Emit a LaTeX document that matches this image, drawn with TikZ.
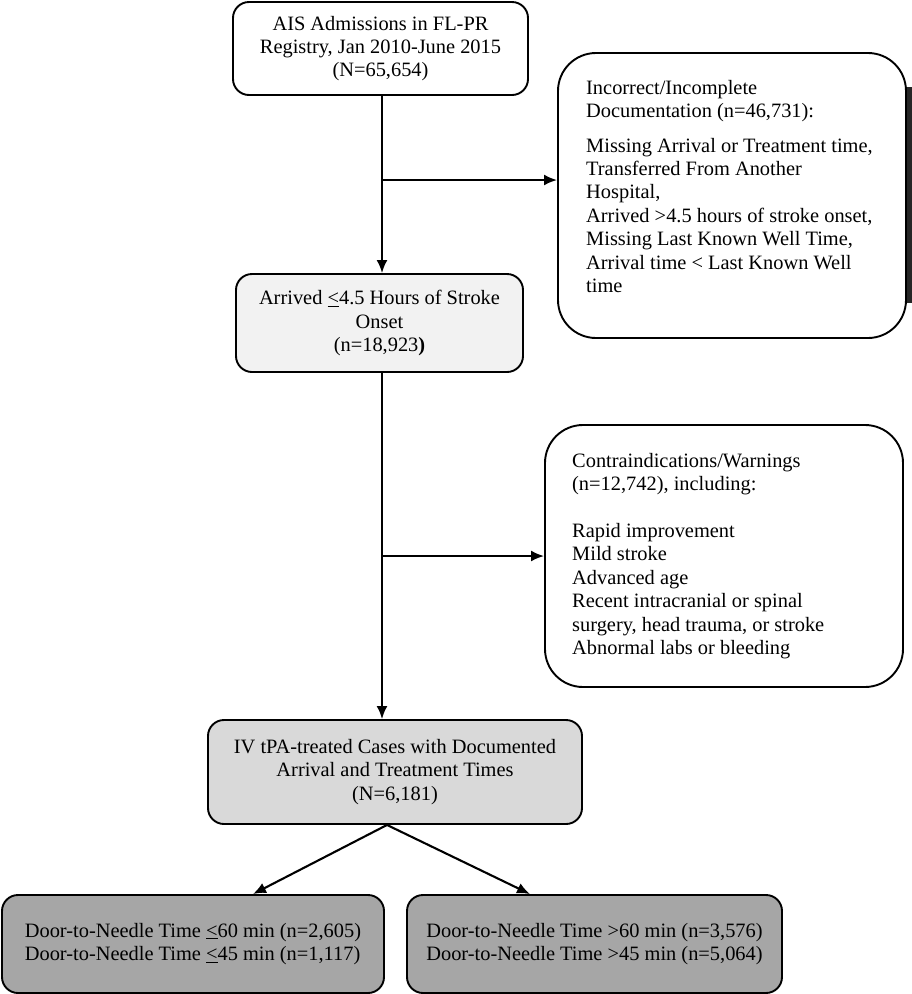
\documentclass[tikz,border=0pt]{standalone}
\usepackage{fontspec}
\setmainfont{Liberation Serif}
\usetikzlibrary{arrows.meta}
\definecolor{fillA}{HTML}{F2F2F2}
\definecolor{fillB}{HTML}{D9D9D9}
\definecolor{fillC}{HTML}{A6A6A6}
\begin{document}
\begin{tikzpicture}[x=1pt,y=-1pt,
  box/.style={draw, line width=1.9pt, rounded corners=16pt, inner sep=0pt, align=center,
    font=\fontsize{20.4}{23.4}\selectfont},
  bigbox/.style={draw, line width=1.9pt, rounded corners=38pt, inner sep=0pt},
  sidetext/.style={inner sep=0pt, align=left, font=\fontsize{20.4}{23.4}\selectfont},
  arr/.style={line width=2.1pt, -{Latex[length=13pt,width=11pt]}}]
\useasboundingbox (0,0) rectangle (912,994);

\node[box, minimum width=295pt, minimum height=93pt] (top) at (380.5,48.5)
  {AIS Admissions in FL-PR\\Registry, Jan 2010-June 2015\\(N=65,654)};
\node[box, fill=fillA, minimum width=287pt, minimum height=98pt] (arrived) at (379.5,323)
  {Arrived \underline{<}4.5 Hours of Stroke\\Onset\\(n=18,923\textbf{)}};
\node[bigbox, minimum width=348pt, minimum height=285pt] (inc) at (732,195.5) {};
\fill[black!85] (906.5,87) rectangle (912,303);
\node[sidetext, anchor=north west] (inctext) at (586,80)
  {Incorrect/Incomplete\\Documentation (n=46,731):\\[11pt]Missing Arrival or Treatment time,\\Transferred From Another\\Hospital,\\Arrived >4.5 hours of stroke onset,\\Missing Last Known Well Time,\\Arrival time < Last Known Well\\time};
\node[bigbox, minimum width=358pt, minimum height=262pt] (contra) at (724,556) {};
\node[sidetext, anchor=north west] (contratext) at (572,453)
  {Contraindications/Warnings\\(n=12,742), including:\\[23.4pt]Rapid improvement\\Mild stroke\\Advanced age\\Recent intracranial or spinal\\surgery, head trauma, or stroke\\Abnormal labs or bleeding};
\node[box, fill=fillB, minimum width=374pt, minimum height=104pt] (iv) at (395,772)
  {IV tPA-treated Cases with Documented\\Arrival and Treatment Times\\(N=6,181)};
\node[box, fill=fillC, align=left, minimum width=382pt, minimum height=98pt] (dl) at (193,944)
  {Door-to-Needle Time \underline{<}60 min (n=2,605)\\Door-to-Needle Time \underline{<}45 min (n=1,117)};
\node[box, fill=fillC, align=left, minimum width=375pt, minimum height=98pt] (dr) at (594.5,944)
  {Door-to-Needle Time >60 min (n=3,576)\\Door-to-Needle Time >45 min (n=5,064)};

\coordinate (c1) at (382,180);
\coordinate (c2) at (382,556);
\coordinate (s) at (387,824);
\coordinate (e1) at (253,900);
\coordinate (e2) at (530,900);
\draw[arr] (top.south -| c1) -- (arrived.north -| c1);
\draw[arr] (c1) -- (inc.west |- c1);
\draw[arr] (arrived.south -| c2) -- (iv.north -| c2);
\draw[arr] (c2) -- (contra.west |- c2);
\draw[arr] (iv.south -| s) -- (dl.north -| e1);
\draw[arr] (iv.south -| s) -- (dr.north -| e2);
\end{tikzpicture}
\end{document}
